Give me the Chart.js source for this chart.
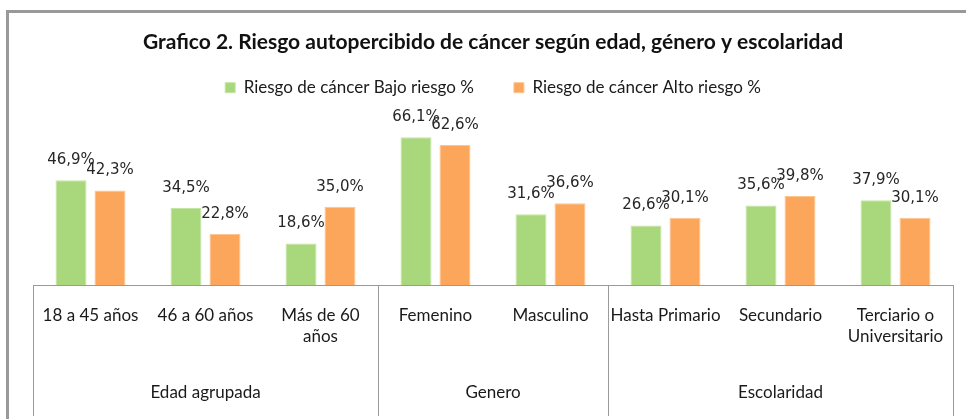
<!DOCTYPE html>
<html>
<head>
<meta charset="utf-8">
<script src="https://cdn.jsdelivr.net/npm/chart.js@4/dist/chart.umd.min.js"></script>
<style>
  html, body { margin: 0; padding: 0; background: #fff; overflow: hidden; }
  #wrap { position: relative; width: 966px; height: 419px; }
  #frame { position: absolute; left: 6px; top: 10px; width: 1000px; height: 500px;
           border-left: 3px solid #999; border-top: 3px solid #999; box-sizing: border-box; }
  canvas { position: absolute; left: 0; top: 0; }
</style>
</head>
<body>
<div id="wrap">
  <div id="frame"></div>
  <canvas id="myChart" width="966" height="419"></canvas>
</div>
<script>
// --- Data ---
const categories = [
    '18 a 45 años', '46 a 60 años', ['Más de 60', 'años'],
    'Femenino', 'Masculino',
    'Hasta Primario', 'Secundario', ['Terciario o', 'Universitario']
]
const groups = ['Edad agrupada', 'Genero', 'Escolaridad']
const groupSizes = [3, 2, 3]
const bajoRiesgo = [46.9, 34.5, 18.6, 66.1, 31.6, 26.6, 35.6, 37.9]
const altoRiesgo = [42.3, 22.8, 35.0, 62.6, 36.6, 30.1, 39.8, 30.1]

const ctx = document.getElementById('myChart').getContext('2d');

// --- Plugins ---
// value labels above each bar
const valueLabels = {
    id: 'valueLabels',
    afterDatasetsDraw(chart) {
        const c = chart.ctx
        c.save()
        c.font = '15px "DejaVu Sans"'
        c.fillStyle = '#262626'
        c.textAlign = 'center'
        c.textBaseline = 'middle'
        chart.data.datasets.forEach((ds, d) => {
            chart.getDatasetMeta(d).data.forEach((bar, i) => {
                c.fillText(ds.data[i].toFixed(1).replace('.', ',') + '%', bar.x, bar.y - 20)
            })
        })
        c.restore()
    }
}

// multi-level axis: separators and group names
const groupAxis = {
    id: 'groupAxis',
    afterDraw(chart) {
        const c = chart.ctx
        const xs = chart.scales.x
        const base = chart.chartArea.bottom
        c.save()
        c.strokeStyle = '#9a9a9a'
        c.lineWidth = 1
        c.beginPath()
        c.moveTo(xs.getPixelForValue(-0.5), base + 0.5)
        c.lineTo(xs.getPixelForValue(categories.length - 0.5), base + 0.5)
        let start = 0
        const bounds = [-0.5]
        groupSizes.forEach(n => { start += n; bounds.push(start - 0.5) })
        bounds.forEach(b => {
            const px = Math.round(xs.getPixelForValue(b)) + 0.5
            c.moveTo(px, base)
            c.lineTo(px, base + 131)
        })
        c.stroke()
        c.font = '17px Lato'
        c.fillStyle = '#1a1a1a'
        c.textAlign = 'center'
        c.textBaseline = 'middle'
        start = 0
        groups.forEach((g, i) => {
            const mid = start + (groupSizes[i] - 1) / 2
            c.fillText(g, xs.getPixelForValue(mid), base + 108)
            start += groupSizes[i]
        })
        c.restore()
    }
}

// --- Chart ---
const myChart = new Chart(ctx, {
    type: 'bar',
    data: {
        labels: categories,
        datasets: [{
            label: 'Riesgo de cáncer Bajo riesgo %',
            data: bajoRiesgo,
            backgroundColor: '#a9d77b',
            borderColor: '#c4e6a2',
            borderWidth: 1
        }, {
            label: 'Riesgo de cáncer Alto riesgo %',
            data: altoRiesgo,
            backgroundColor: '#fca65b',
            borderColor: '#fdc590',
            borderWidth: 1
        }]
    },
    options: {
        responsive: false,
        animation: false,
        layout: { padding: { left: 33, right: 13, top: 0, bottom: 0 } },
        datasets: {
            bar: { categoryPercentage: 0.678, barPercentage: 0.795 }
        },
        plugins: {
            title: {
                display: true,
                text: 'Grafico 2. Riesgo autopercibido de cáncer según edad, género y escolaridad',
                color: '#111',
                font: { family: 'Lato', size: 21, weight: 'bold' },
                padding: { top: 30, bottom: -16 }
            },
            legend: {
                display: true,
                labels: {
                    color: '#1a1a1a',
                    font: { family: 'Lato', size: 17 },
                    boxWidth: 10,
                    boxHeight: 10,
                    padding: 40
                }
            },
            tooltip: { enabled: false }
        },
        scales: {
            x: {
                grid: { display: false, drawTicks: false },
                border: { display: false },
                ticks: {
                    color: '#1a1a1a',
                    font: { family: 'Lato', size: 17, lineHeight: 1.25 },
                    padding: 20,
                    maxRotation: 0,
                    autoSkip: false
                },
                afterFit: s => { s.height = 134 }
            },
            y: {
                display: false,
                min: 0,
                max: 80
            }
        }
    },
    plugins: [valueLabels, groupAxis]
});
</script>
</body>
</html>
